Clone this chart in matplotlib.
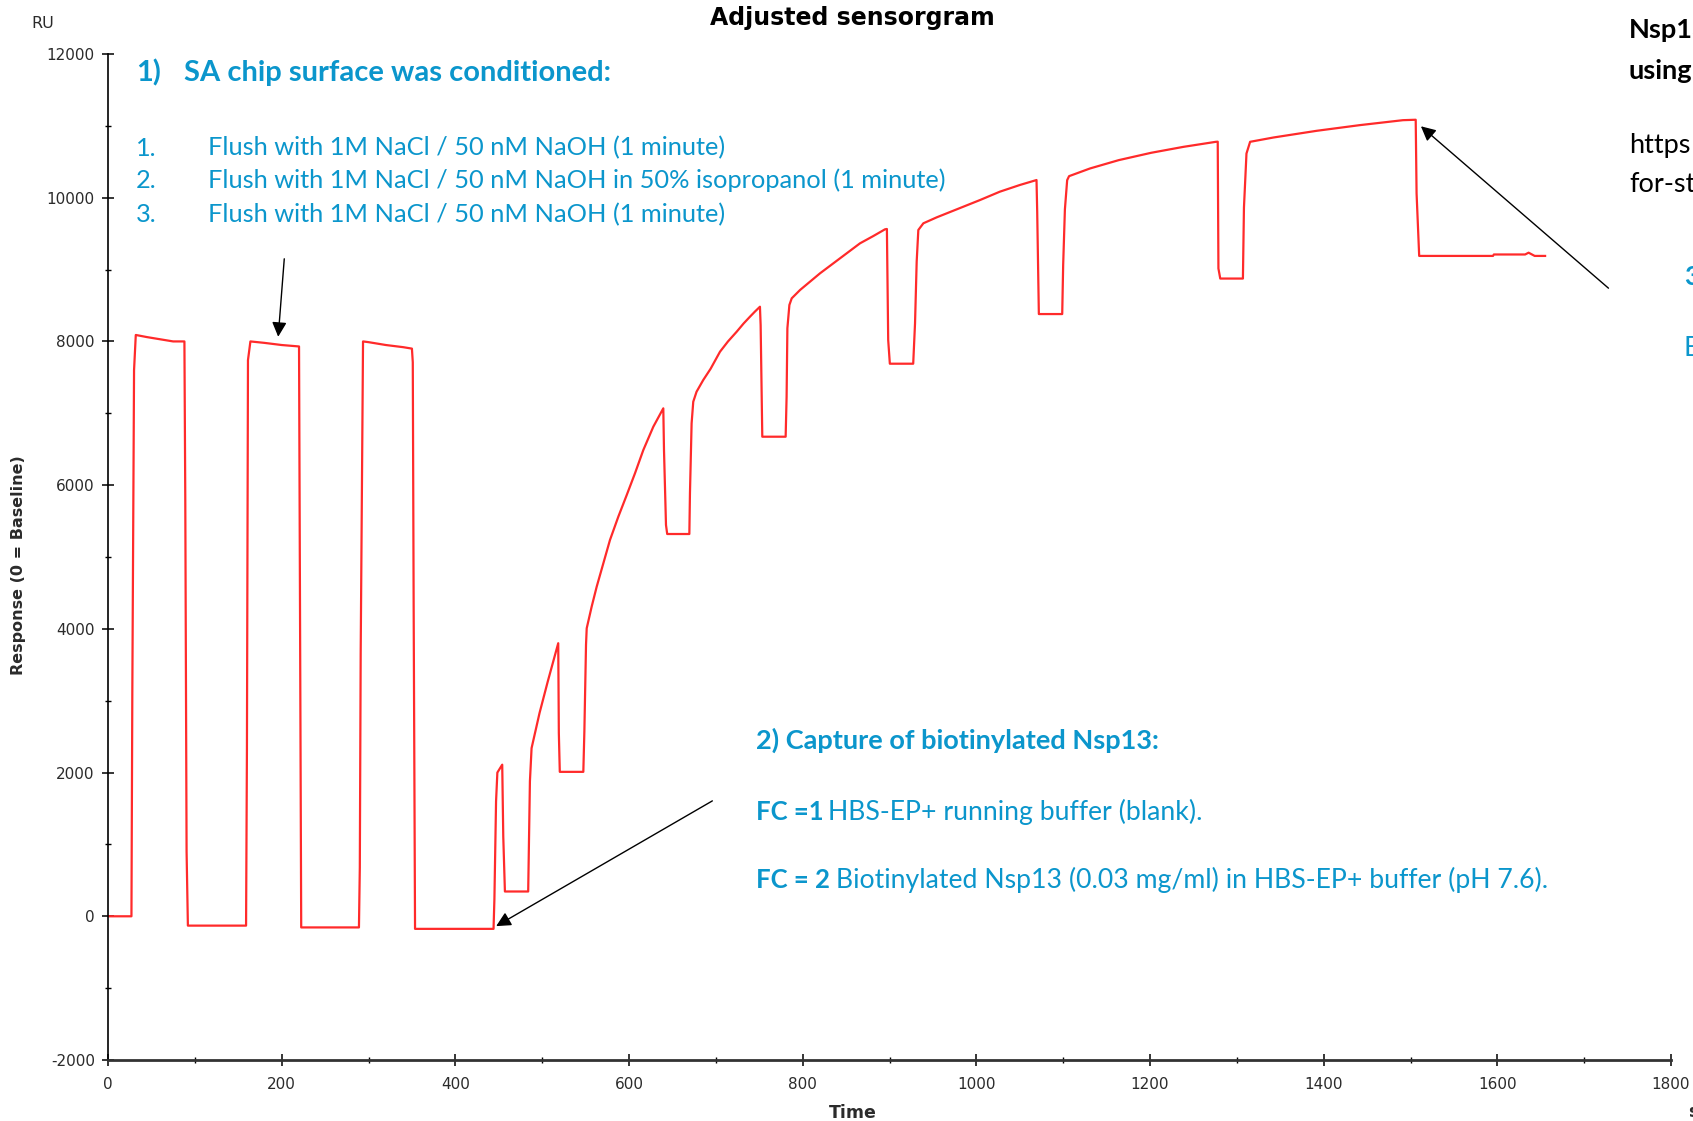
import matplotlib.pyplot as plt
from matplotlib.ticker import MultipleLocator

plt.rcParams["axes.unicode_minus"] = False

# ==========================
# DATA
# ==========================
# SA chip conditioning: three pulses
cond_time = [0, 27, 28, 30, 32, 45, 60, 75, 88, 89, 90.5, 92,
             159, 160, 161.2, 164, 180, 200, 219, 220, 221, 222.5,
             289, 290, 291, 293.7, 300, 320, 340, 350, 351, 352, 353.6, 444]
cond_ru = [0, 0, 3100, 7600, 8090, 8060, 8030, 8000, 8000, 5800, 900, -130,
           -130, 2320, 7740, 8000, 7980, 7950, 7930, 7930, 4600, -155,
           -155, 680, 3670, 8000, 7990, 7950, 7920, 7900, 7710, 4310, -175, -175]

# capture of biotinylated Nsp13: repeated injections
capt_time = [445, 446.9, 448.4, 454, 455.2, 457.1, 483.9, 485.9, 487.8, 497, 506.5, 518.5,
             519.2, 520.3, 547.4, 548.6, 550.5, 551.3, 557, 562.8, 570.4, 578.1, 587.7, 597.4,
             606.9, 616.5, 628, 639.5,
             640.3, 642.6, 644, 669.5, 670.2, 672.1, 674, 677.8, 685.5, 694, 704.8, 714, 724,
             732, 739.3, 745, 750.8,
             751.6, 753.5, 780.4, 781.5, 782.4, 784.7, 787.4, 797, 808.5, 820, 835.3, 850.7,
             866, 881.4, 894.8, 897,
             898.5, 900.4, 927.3, 929.4, 931.3, 933.2, 939, 954.4, 973.5, 992.7, 1004.3,
             1027.1, 1050.1, 1069.3,
             1070.1, 1072, 1098.9, 1100, 1102, 1104.6, 1106.8, 1130.9, 1164, 1201.3, 1238.6,
             1275.9, 1278,
             1278.8, 1280.9, 1307, 1308.2, 1311.1, 1315.3, 1342.2, 1391.9, 1441.6, 1491.3, 1506]
capt_ru = [240, 1600, 2000, 2110, 1110, 345, 345, 1880, 2340, 2830, 3270, 3800,
           2550, 2010, 2010, 2570, 3780, 4008, 4309, 4587, 4912, 5237, 5561, 5863,
           6165, 6489, 6813, 7069,
           6489, 5445, 5320, 5320, 5886, 6860, 7161, 7300, 7463, 7620, 7857, 8000, 8135,
           8250, 8344, 8415, 8483,
           8228, 6674, 6674, 7231, 8183, 8507, 8600, 8716, 8831, 8948, 9087, 9226,
           9365, 9467, 9560, 9565,
           8019, 7690, 7690, 8252, 9110, 9551, 9644, 9727, 9819, 9912, 9968,
           10084, 10177, 10246,
           9805, 8381, 8381, 9063, 9838, 10244, 10300, 10407, 10523, 10625, 10708,
           10778, 10780,
           9015, 8875, 8875, 9863, 10615, 10778, 10838, 10931, 11010, 11079, 11085]

# final wash
wash_time = [1507, 1510, 1595, 1596, 1632, 1636, 1643, 1655]
wash_ru = [10060, 9190, 9190, 9210, 9210, 9235, 9190, 9190]

x_ticks = list(range(0, 1801, 200))
y_ticks = list(range(-2000, 12001, 2000))

BLUE = "#0b96cc"
TXT = ["Lato", "DejaVu Sans"]

# ==========================
# FIGURE
# ==========================
fig = plt.figure(figsize=(16.93, 11.21), dpi=100)
ax = fig.add_axes([108 / 1693, 1 - 1060 / 1121, (1671 - 108) / 1693, (1060 - 54) / 1121])

t = cond_time + capt_time + wash_time
r = cond_ru + capt_ru + wash_ru
ax.plot(t, r, color="#ff2a2a", lw=1.6)

ax.set_xlim(0, 1800)
ax.set_ylim(-2000, 12000)
ax.set_xticks(x_ticks)
ax.set_yticks(y_ticks)
ax.xaxis.set_minor_locator(MultipleLocator(100))
ax.yaxis.set_minor_locator(MultipleLocator(1000))
for s in ["top", "right"]:
    ax.spines[s].set_visible(False)
ax.spines["left"].set_linewidth(1.2)
ax.spines["bottom"].set_linewidth(2.0)
ax.spines["bottom"].set_color("#333333")
ax.tick_params(which="major", direction="inout", length=9, width=1.1,
               labelsize=11, labelcolor="#2b2b2b")
ax.tick_params(axis="y", which="major", pad=5)
ax.tick_params(axis="x", which="major", pad=8)
ax.tick_params(which="minor", direction="inout", length=5, width=1)

fig.text(852 / 1693, 1 - 18 / 1121, "Adjusted sensorgram", ha="center", va="center",
         fontsize=17, fontweight="bold")
fig.text(43 / 1693, 1 - 23 / 1121, "RU", ha="center", va="center", fontsize=11.5, color="#2b2b2b")
fig.text(19 / 1693, 1 - 565 / 1121, "Response (0 = Baseline)", rotation=90, ha="center",
         va="center", fontsize=11.5, fontweight="bold", color="#2b2b2b")
fig.text(853 / 1693, 1 - 1113 / 1121, "Time", ha="center", va="center",
         fontsize=12.5, fontweight="bold", color="#2b2b2b")
fig.text(1688 / 1693, 1 - 1112 / 1121, "s", ha="left", va="center", fontsize=12,
         fontweight="bold", color="#2b2b2b")

# ==========================
# ANNOTATIONS
# ==========================
def ftxt(x, y, s, **kw):
    kw.setdefault("color", BLUE)
    kw.setdefault("fontsize", 18.3)
    fig.text(x / 1693, 1 - y / 1121, s, family=TXT, ha="left", va="center", **kw)

ftxt(136, 73, "1)", fontsize=21, fontweight="bold")
ftxt(184, 73, "SA chip surface was conditioned:", fontsize=21, fontweight="bold")
steps = ["Flush with 1M NaCl / 50 nM NaOH (1 minute)",
         "Flush with 1M NaCl / 50 nM NaOH in 50% isopropanol (1 minute)",
         "Flush with 1M NaCl / 50 nM NaOH (1 minute)"]
for i, (yy, line) in enumerate(zip([148, 180, 215], steps)):
    ftxt(136, yy, f"{i + 1}.")
    ftxt(208, yy, line)

ftxt(756, 740, "2) Capture of biotinylated Nsp13:", fontsize=19.5, fontweight="bold")
ftxt(756, 812, "FC =1", fontsize=18.5, fontweight="bold")
ftxt(828, 812, "HBS-EP+ running buffer (blank).", fontsize=19.2)
ftxt(756, 880, "FC = 2", fontsize=18.5, fontweight="bold")
ftxt(836, 880, "Biotinylated Nsp13 (0.03 mg/ml) in HBS-EP+ buffer (pH 7.6).", fontsize=19.2)

# text running off the right edge (cut in the original too)
ftxt(1629, 30, "Nsp13", color="black", fontsize=19.5, fontweight="bold")
ftxt(1629, 71, "using", color="black", fontsize=19.5, fontweight="bold")
ftxt(1629, 146, "https", color="black", fontsize=19.5)
ftxt(1629, 185, "for-st", color="black", fontsize=19.5)
ftxt(1684, 276, "3)", fontsize=19.5, fontweight="bold")
ftxt(1684, 349, "E", fontsize=19.5)

arrow = dict(arrowstyle="-|>", color="black", lw=1, mutation_scale=22, shrinkA=0, shrinkB=0)
ax.annotate("", xy=(196, 8065), xytext=(203, 9150), arrowprops=arrow, annotation_clip=False)
ax.annotate("", xy=(447, -137), xytext=(696, 1606), arrowprops=arrow, annotation_clip=False)
ax.annotate("", xy=(1512, 10994), xytext=(1728, 8741), arrowprops=arrow, annotation_clip=False)

plt.savefig("out.png", dpi=100)
plt.close()
